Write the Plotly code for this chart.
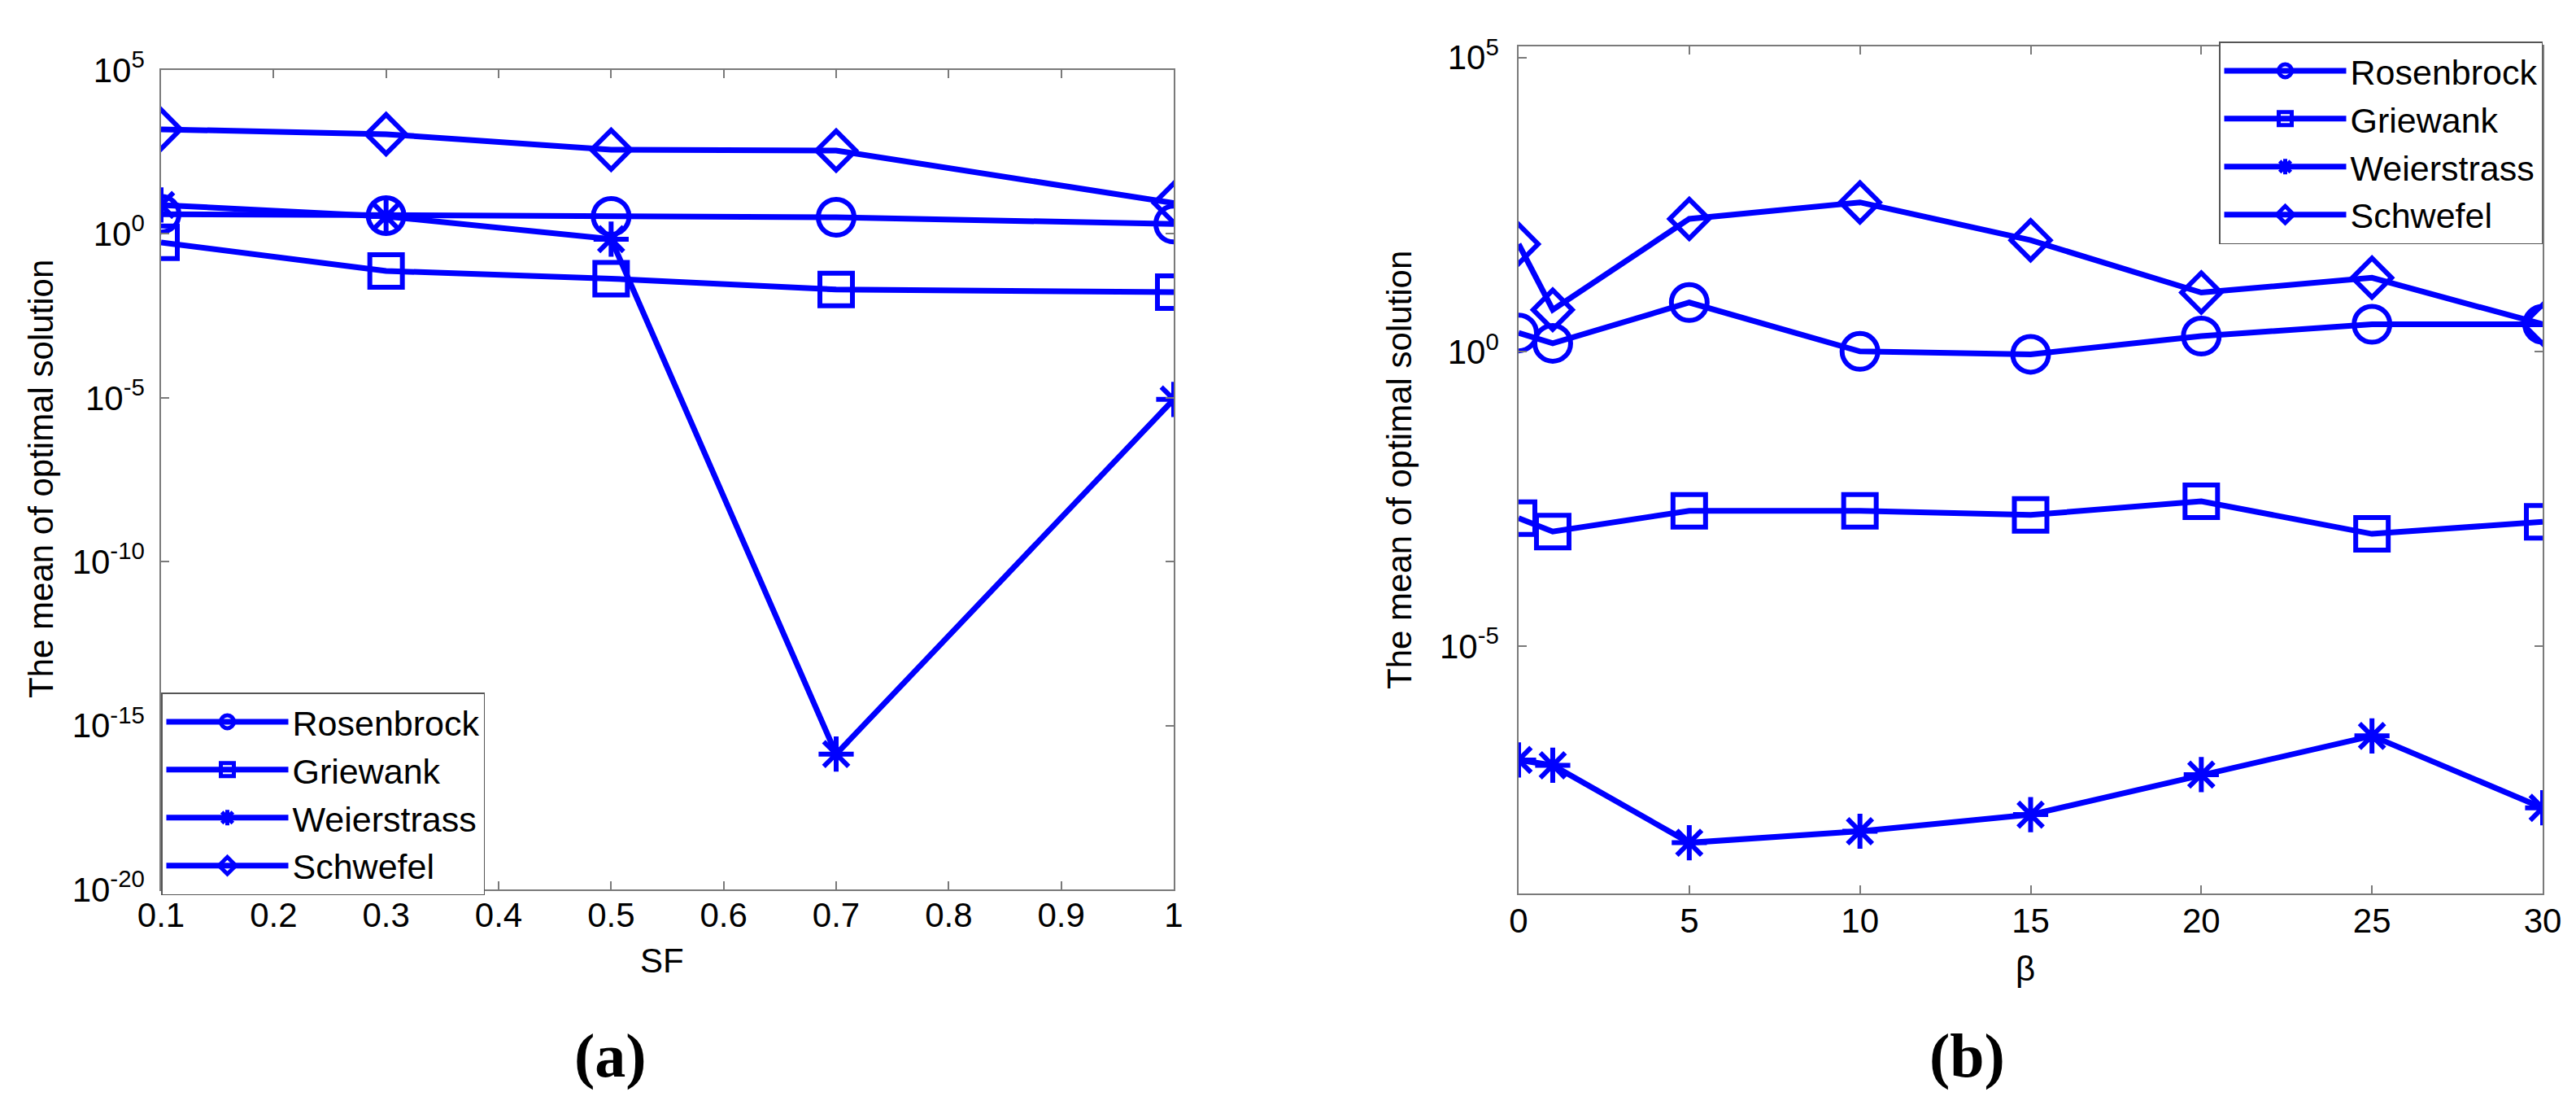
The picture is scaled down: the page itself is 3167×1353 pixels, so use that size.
"""Mean optimal solution vs SF and beta, two log-scale panels."""

import plotly.graph_objects as go
from plotly.subplots import make_subplots

# panel (a): scaling factor SF
sf = [0.1, 0.3, 0.5, 0.7, 1.0]
rosen_a = [4.0, 3.6, 3.4, 3.2, 2.0]
griewank_a = [0.55, 0.074, 0.043, 0.020, 0.0166]
weier_a = [7.6, 3.4, 0.69, 1.35e-16, 8.9e-6]
schwefel_a = [1550, 1100, 370, 350, 8.7]

# panel (b): beta
beta = [0, 1, 5, 10, 15, 20, 25, 30]
rosen_b = [2.1, 1.4, 6.9, 1.02, 0.91, 1.86, 2.95, 2.95]
griewank_b = [1.5e-3, 8.9e-4, 2.0e-3, 2.0e-3, 1.7e-3, 2.9e-3, 8.1e-4, 1.3e-3]
weier_b = [1.17e-7, 9.5e-8, 4.6e-9, 7.2e-9, 1.38e-8, 6.6e-8, 3.0e-7, 1.8e-8]
schwefel_b = [68, 5.2, 182, 347, 79, 10.2, 18.2, 2.95]

names = ["Rosenbrock", "Griewank", "Weierstrass", "Schwefel"]
symbols = ["circle-open", "square-open", "asterisk-open", "diamond-open"]
sizes = [44, 40, 36, 37]

ya_exp = [5, 0, -5, -10, -15, -20]
yb_exp = [5, 0, -5]
sf_ticks = [0.1, 0.2, 0.3, 0.4, 0.5, 0.6, 0.7, 0.8, 0.9, 1.0]
sf_labels = ["0.1", "0.2", "0.3", "0.4", "0.5", "0.6", "0.7", "0.8", "0.9", "1"]
beta_ticks = [0, 5, 10, 15, 20, 25, 30]

W, H = 3167, 1353
BLUE = "#0000FF"
AXIS = "#7a7a7a"
FONT = "Liberation Sans, Arial, sans-serif"
SERIF = "Liberation Serif, Times New Roman, serif"

fig = make_subplots(rows=1, cols=2)

series_a = [rosen_a, griewank_a, weier_a, schwefel_a]
series_b = [rosen_b, griewank_b, weier_b, schwefel_b]

for col, xs, series, leg in [(1, sf, series_a, "legend"), (2, beta, series_b, "legend2")]:
    for name, sym, sz, ys in zip(names, symbols, sizes, series):
        fig.add_trace(
            go.Scatter(
                x=xs, y=ys, name=name, mode="lines+markers",
                line=dict(color=BLUE, width=7),
                marker=dict(symbol=sym, size=sz, color=BLUE,
                            line=dict(color=BLUE, width=6)),
                legend=leg,
            ),
            row=1, col=col,
        )

axis_common = dict(
    showline=True, linecolor=AXIS, linewidth=1.5, mirror="ticks",
    ticks="inside", ticklen=10, tickcolor=AXIS, tickwidth=1.5,
    showgrid=False, zeroline=False, automargin=False,
    tickfont=dict(family=FONT, size=42, color="black"),
)

fig.update_xaxes(
    **axis_common, range=[0.1, 1.0],
    tickvals=sf_ticks, ticktext=sf_labels, ticklabelstandoff=-6,
    domain=[190 / W, 1435 / W], row=1, col=1,
)
fig.update_xaxes(
    **axis_common, range=[0, 30],
    tickvals=beta_ticks, ticklabelstandoff=-4,
    domain=[1859 / W, 3118 / W], row=1, col=2,
)
fig.update_yaxes(
    **axis_common, type="log", range=[-20, 5],
    tickvals=[10.0 ** e for e in ya_exp],
    ticktext=[f"10<sup>{e}</sup>" for e in ya_exp],
    ticklabelstandoff=10,
    domain=[1 - 1085 / H, 1 - 78 / H], row=1, col=1,
)
fig.update_yaxes(
    **axis_common, type="log", range=[-9.2, 5.19],
    tickvals=[10.0 ** e for e in yb_exp],
    ticktext=[f"10<sup>{e}</sup>" for e in yb_exp],
    ticklabelstandoff=14,
    domain=[1 - 1090 / H, 1 - 49 / H], row=1, col=2,
)

legend_style = dict(
    font=dict(family=FONT, size=43, color="black"),
    bgcolor="white", bordercolor="#555555", borderwidth=1.5,
    itemwidth=150, tracegroupgap=0,
)


def label(text, x, y, size=42, angle=0, family=FONT):
    return dict(text=text, x=x / W, y=1 - y / H, xref="paper", yref="paper",
                showarrow=False, textangle=angle,
                xanchor="center", yanchor="middle",
                font=dict(family=family, size=size, color="black"))


fig.update_layout(
    width=W, height=H,
    paper_bgcolor="white", plot_bgcolor="white",
    margin=dict(l=0, r=0, t=0, b=0),
    showlegend=True,
    legend=dict(**legend_style, x=190 / W, y=1 - 1092 / H,
                xanchor="left", yanchor="bottom"),
    legend2=dict(**legend_style, x=3118 / W, y=1 - 43 / H,
                 xanchor="right", yanchor="top"),
    annotations=[
        label("SF", 806, 1172),
        label("β", 2482, 1182),
        label("The mean of optimal solution", 42, 581, angle=-90),
        label("The mean of optimal solution", 1712, 570, angle=-90),
        label("<b>(a)</b>", 742, 1289, size=76, family=SERIF),
        label("<b>(b)</b>", 2410, 1289, size=76, family=SERIF),
    ],
)

fig.write_html("out.html")
